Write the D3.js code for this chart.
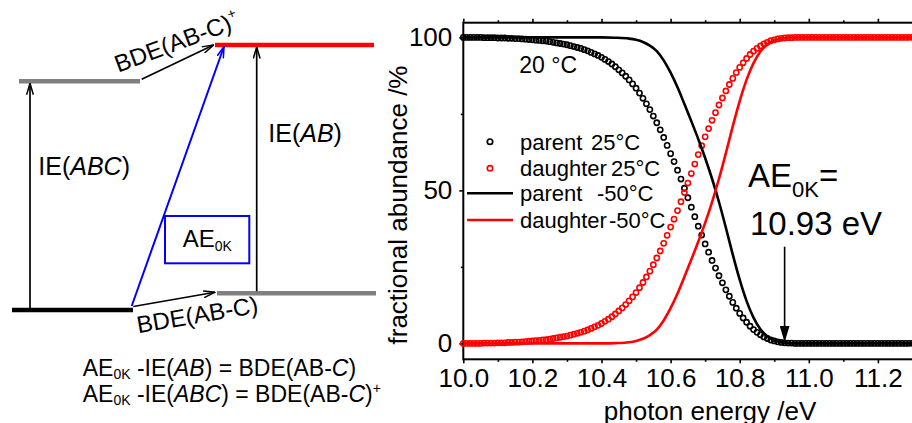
<!DOCTYPE html>
<html>
<head>
<meta charset="utf-8">
<script src="https://cdn.jsdelivr.net/npm/d3@7"></script>
<style>
  body { margin: 0; background: #fff; }
  svg { display: block; font-family: "Liberation Sans", Arial, Helvetica, sans-serif; }
  text { white-space: pre; }
</style>
</head>
<body>
<svg id="fig" width="912" height="423"></svg>
<script>
// ---------- breakdown diagram data ----------
// 25 °C scan: one point every 0.01 eV starting at 10.00 eV
const scanStart = 10.00;
const scanStep = 0.01;
const parent25 = [
  100, 100, 100, 100, 100, 100, 99.9, 99.9, 99.9, 99.9,
  99.8, 99.8, 99.8, 99.7, 99.7, 99.6, 99.6, 99.5, 99.4, 99.3,
  99.2, 99.1, 99.0, 98.9, 98.8, 98.6, 98.4, 98.2, 98.0, 97.8,
  97.6, 97.3, 97.0, 96.7, 96.4, 96.0, 95.6, 95.1, 94.6, 94.1,
  93.5, 92.8, 92.1, 91.3, 90.4, 89.4, 88.4, 87.3, 86.1, 84.8,
  83.4, 81.8, 80.1, 78.3, 76.4, 74.3, 72.1, 69.8, 67.3, 64.7,
  62.0, 59.4, 56.6, 53.7, 50.7, 47.6, 44.5, 41.4, 38.3, 35.4,
  32.5, 29.8, 27.1, 24.6, 22.1, 19.8, 17.5, 15.4, 13.4, 11.5,
  9.8, 8.3, 6.9, 5.6, 4.5, 3.6, 2.8, 2.1, 1.6, 1.1,
  0.8, 0.5, 0.3, 0.2, 0.1, 0.1, 0, 0, 0, 0,
  0, 0, 0, 0, 0, 0, 0, 0, 0, 0,
  0, 0, 0, 0, 0, 0, 0, 0, 0, 0,
  0, 0, 0, 0, 0, 0, 0, 0, 0, 0,
  0, 0, 0
];
const daughter25 = [
  0, 0, 0, 0, 0, 0, 0.1, 0.1, 0.1, 0.1,
  0.2, 0.2, 0.2, 0.3, 0.3, 0.4, 0.4, 0.5, 0.6, 0.7,
  0.8, 0.9, 1.0, 1.1, 1.2, 1.4, 1.6, 1.8, 2.0, 2.2,
  2.4, 2.7, 3.0, 3.3, 3.6, 4.0, 4.4, 4.9, 5.4, 5.9,
  6.5, 7.2, 7.9, 8.7, 9.6, 10.6, 11.6, 12.7, 13.9, 15.2,
  16.6, 18.2, 19.9, 21.7, 23.6, 25.7, 27.9, 30.2, 32.7, 35.3,
  38.0, 40.6, 43.4, 46.3, 49.3, 52.4, 55.5, 58.6, 61.7, 64.6,
  67.5, 70.2, 72.9, 75.4, 77.9, 80.2, 82.5, 84.6, 86.6, 88.5,
  90.2, 91.7, 93.1, 94.4, 95.5, 96.4, 97.2, 97.9, 98.4, 98.9,
  99.2, 99.5, 99.7, 99.8, 99.9, 99.9, 100, 100, 100, 100,
  100, 100, 100, 100, 100, 100, 100, 100, 100, 100,
  100, 100, 100, 100, 100, 100, 100, 100, 100, 100,
  100, 100, 100, 100, 100, 100, 100, 100, 100, 100,
  100, 100, 100
];

// -50 °C modelled curves
const lineEnergies = [
  10.00, 10.10, 10.20, 10.30, 10.40, 10.44, 10.48, 10.50, 10.52, 10.54,
  10.56, 10.58, 10.60, 10.62, 10.64, 10.66, 10.68, 10.70, 10.72, 10.74,
  10.76, 10.78, 10.80, 10.82, 10.84, 10.86, 10.88, 10.90, 10.92, 10.94,
  10.96, 11.00, 11.10, 11.20, 11.30, 11.40
];
const parentMinus50 = [
  100, 100, 100, 100, 100, 99.9, 99.6, 99.2, 98.5, 97.3,
  95.5, 92.5, 88.5, 83.7, 78.2, 72.6, 66.8, 60.6, 53.8, 46.2,
  37.8, 29.0, 20.8, 13.8, 8.4, 4.6, 2.3, 1.0, 0.4, 0.1,
  0, 0, 0, 0, 0, 0
];
const daughterMinus50 = [
  0, 0, 0, 0, 0, 0.1, 0.4, 0.8, 1.5, 2.7,
  4.5, 7.5, 11.5, 16.3, 21.8, 27.4, 33.2, 39.4, 46.2, 53.8,
  62.2, 71.0, 79.2, 86.2, 91.6, 95.4, 97.7, 99.0, 99.6, 99.9,
  100, 100, 100, 100, 100, 100
];

const xTicks = [10.0, 10.2, 10.4, 10.6, 10.8, 11.0, 11.2];
const xMinorTicks = [10.1, 10.3, 10.5, 10.7, 10.9, 11.1, 11.3];
const yTicks = [0, 50, 100];
const yMinorTicks = [25, 75];
const aeValue = 10.93;   // appearance energy at 0 K, eV

const legendNames = ["parent", "daughter", "parent", "daughter"];
const legendTemps = ["25°C", "25°C", "-50°C", "-50°C"];

// ---------- energy level scheme (schematic units) ----------
const levelNames = ["ABC", "ABC+", "AB + C", "AB+ + C"];
const levelEnergy = [0, 8.2, 0.6, 9.5];

// ---------- drawing ----------
const svg = d3.select("#fig");
const RED = "#ff0000", BLUE = "#0000ff", GREY = "#808080";

// rich text helper: parts are {t, i, sub, sup, size}
function richText(parent, xp, yp, size, parts) {
  const text = parent.append("text").attr("x", xp).attr("y", yp).attr("font-size", size);
  let shift = 0;
  parts.forEach(p => {
    const ts = text.append("tspan").text(p.t);
    let target = 0;
    if (p.sub) { ts.attr("font-size", p.size || size * 0.6); target = p.sub; }
    if (p.sup) { ts.attr("font-size", p.size || size * 0.6); target = -p.sup; }
    if (p.i) ts.attr("font-style", "italic");
    if (target !== shift) { ts.attr("dy", target - shift); shift = target; }
  });
  return text;
}

// markers
const defs = svg.append("defs");
function openHead(id, color) {
  defs.append("marker").attr("id", id)
    .attr("markerUnits", "userSpaceOnUse")
    .attr("viewBox", "0 0 12 8").attr("refX", 11.5).attr("refY", 4)
    .attr("markerWidth", 12).attr("markerHeight", 8).attr("orient", "auto")
    .append("path").attr("d", "M0,0.6 L11.5,4 L0,7.4")
    .attr("fill", "none").attr("stroke", color).attr("stroke-width", 1.5);
}
openHead("openBlack", "#000");
openHead("openBlue", BLUE);
defs.append("marker").attr("id", "solidHead")
  .attr("markerUnits", "userSpaceOnUse")
  .attr("viewBox", "0 0 16 10").attr("refX", 16).attr("refY", 5)
  .attr("markerWidth", 16).attr("markerHeight", 10).attr("orient", "auto")
  .append("path").attr("d", "M0,0 L16,5 L0,10 Z").attr("fill", "#000");

// ===== left panel: energy diagram =====
const dia = svg.append("g");
const eY = d3.scaleLinear().domain([0, 9.5]).range([310, 45]);
const levelX = [[12, 133], [19, 140], [217, 376], [215, 374]];
const levelColor = ["#000", GREY, GREY, RED];

levelEnergy.forEach((e, i) => {
  dia.append("line")
    .attr("x1", levelX[i][0]).attr("x2", levelX[i][1])
    .attr("y1", eY(e)).attr("y2", eY(e))
    .attr("stroke", levelColor[i]).attr("stroke-width", 4.5);
});

function arrow(x1, y1, x2, y2, color, marker, w) {
  dia.append("line").attr("x1", x1).attr("y1", y1).attr("x2", x2).attr("y2", y2)
    .attr("stroke", color).attr("stroke-width", w || 1.7)
    .attr("marker-end", `url(#${marker})`);
}
// ionisation energies
arrow(30, eY(levelEnergy[0]) - 2, 30, eY(levelEnergy[1]) + 2, "#000", "openBlack");
arrow(256.7, eY(levelEnergy[2]) - 2, 256.7, eY(levelEnergy[3]) + 2, "#000", "openBlack");
// bond dissociation energies
arrow(141.7, eY(levelEnergy[1]) - 2, 213.5, eY(levelEnergy[3]), "#000", "openBlack");
arrow(133.3, eY(levelEnergy[0]) - 3.5, 215, eY(levelEnergy[2]) - 1, "#000", "openBlack");
// appearance energy
arrow(131.7, eY(levelEnergy[0]) - 4, 224, eY(levelEnergy[3]) + 1.5, BLUE, "openBlue", 2);

richText(dia, 38.3, 175, 25, [{t: "IE("}, {t: "ABC", i: true}, {t: ")"}]);
richText(dia, 268.3, 141.7, 25, [{t: "IE("}, {t: "AB", i: true}, {t: ")"}]);

richText(dia.append("g").attr("transform", "translate(118.3,72.7) rotate(-20.5)"), 0, 0, 24,
  [{t: "BDE(AB-C)"}, {t: "+", sup: 11, size: 14}]);
richText(dia.append("g").attr("transform", "translate(138.3,333.3) rotate(-9.7)"), 0, 0, 24,
  [{t: "BDE(AB-C)"}]);

dia.append("rect").attr("x", 165).attr("y", 216).attr("width", 84.3).attr("height", 47.3)
  .attr("fill", "none").attr("stroke", BLUE).attr("stroke-width", 2);
richText(dia, 182.7, 247.3, 24, [{t: "AE"}, {t: "0K", sub: 3.5, size: 14}]);

richText(dia, 82.7, 376, 23, [
  {t: "AE"}, {t: "0K", sub: 3, size: 14}, {t: " -IE("}, {t: "AB", i: true},
  {t: ") = BDE(AB-"}, {t: "C", i: true}, {t: ")"}]);
richText(dia, 82.7, 402, 23, [
  {t: "AE"}, {t: "0K", sub: 3, size: 14}, {t: " -IE("}, {t: "ABC", i: true},
  {t: ") = BDE(AB-"}, {t: "C", i: true}, {t: ")"}, {t: "+", sup: 9, size: 14}]);

// ===== right panel: breakdown diagram =====
const x = d3.scaleLinear().domain([10.0, 11.4]).range([463.3, 463.3 + 345.5 * 1.4]);
const y = d3.scaleLinear().domain([-5.2, 104.8]).range([359.3, 22.7]);
const plot = svg.append("g");

const [x0, x1] = x.range();
const [yb, yt] = y.range();

// axes
function styleAxis(g) {
  g.select(".domain").remove();
  g.selectAll(".tick line").attr("stroke", "#000").attr("stroke-width", 1.6);
  g.attr("font-size", 26).attr("font-family", null);
  g.selectAll("text").attr("fill", "#000");
}
plot.append("g").attr("transform", `translate(0,${yb})`)
  .call(d3.axisBottom(x).tickValues(xTicks).tickFormat(d3.format(".1f")).tickSize(4).tickPadding(5))
  .call(styleAxis);
plot.append("g").attr("transform", `translate(0,${yb})`)
  .call(d3.axisBottom(x).tickValues(xMinorTicks).tickFormat("").tickSize(2.5))
  .call(styleAxis);
plot.append("g").attr("transform", `translate(0,${yt})`)
  .call(d3.axisTop(x).tickValues(xTicks).tickFormat("").tickSize(4))
  .call(styleAxis);
plot.append("g").attr("transform", `translate(0,${yt})`)
  .call(d3.axisTop(x).tickValues(xMinorTicks).tickFormat("").tickSize(2.5))
  .call(styleAxis);
plot.append("g").attr("transform", `translate(${x0},0)`)
  .call(d3.axisLeft(y).tickValues(yTicks).tickSize(4).tickPadding(7))
  .call(styleAxis);
plot.append("g").attr("transform", `translate(${x0},0)`)
  .call(d3.axisLeft(y).tickValues(yMinorTicks).tickFormat("").tickSize(2.5))
  .call(styleAxis);

plot.append("rect").attr("x", x0).attr("y", yt).attr("width", x1 - x0).attr("height", yb - yt)
  .attr("fill", "none").attr("stroke", "#000").attr("stroke-width", 2);

// measured points (25 °C)
const scan = parent25.map((p, i) => ({e: scanStart + i * scanStep, p, d: daughter25[i]}));
function dots(key, color) {
  plot.append("g").selectAll("circle").data(scan).join("circle")
    .attr("cx", r => x(r.e)).attr("cy", r => y(r[key])).attr("r", 2.6)
    .attr("fill", "none").attr("stroke", color).attr("stroke-width", 1.6);
}
dots("p", "#000");
dots("d", RED);

// modelled curves (-50 °C)
const line = d3.line().x((d, i) => x(lineEnergies[i])).y(d => y(d)).curve(d3.curveMonotoneX);
plot.append("path").attr("d", line(parentMinus50)).attr("fill", "none")
  .attr("stroke", "#000").attr("stroke-width", 2.6);
plot.append("path").attr("d", line(daughterMinus50)).attr("fill", "none")
  .attr("stroke", RED).attr("stroke-width", 2.6);

// legend
const legColors = ["#000", RED, "#000", RED];
const legY = [141.7, 168.3, 193.3, 220];
const tempX = [591, 611, 597, 609];
legendNames.forEach((name, i) => {
  if (i < 2) {
    plot.append("circle").attr("cx", 490).attr("cy", legY[i]).attr("r", 2.7)
      .attr("fill", "none").attr("stroke", legColors[i]).attr("stroke-width", 1.7);
  } else {
    plot.append("line").attr("x1", 467).attr("x2", 513).attr("y1", legY[i]).attr("y2", legY[i])
      .attr("stroke", legColors[i]).attr("stroke-width", 2.6);
  }
  const t = plot.append("text").attr("y", legY[i] + 8).attr("font-size", 22);
  t.append("tspan").attr("x", 520).text(name);
  t.append("tspan").attr("x", tempX[i]).text(legendTemps[i]);
});

richText(plot, 519.3, 72.7, 23, [{t: "20 °C"}]);

// AE annotation
richText(plot, 748, 186.7, 33, [{t: "AE"}, {t: "0K", sub: 10, size: 22}, {t: "="}]);
richText(plot, 750, 235, 33, [{t: `${aeValue.toFixed(2)} eV`}]);
plot.append("line").attr("x1", x(aeValue)).attr("x2", x(aeValue))
  .attr("y1", 246.7).attr("y2", y(0) - 1.5)
  .attr("stroke", "#000").attr("stroke-width", 1.6).attr("marker-end", "url(#solidHead)");

// axis titles
plot.append("text").attr("transform", `translate(406.5,205) rotate(-90)`)
  .attr("text-anchor", "middle").attr("font-size", 26).text("fractional abundance /%");
plot.append("text").attr("x", 710).attr("y", 420)
  .attr("text-anchor", "middle").attr("font-size", 26).text("photon energy /eV");
</script>
</body>
</html>
